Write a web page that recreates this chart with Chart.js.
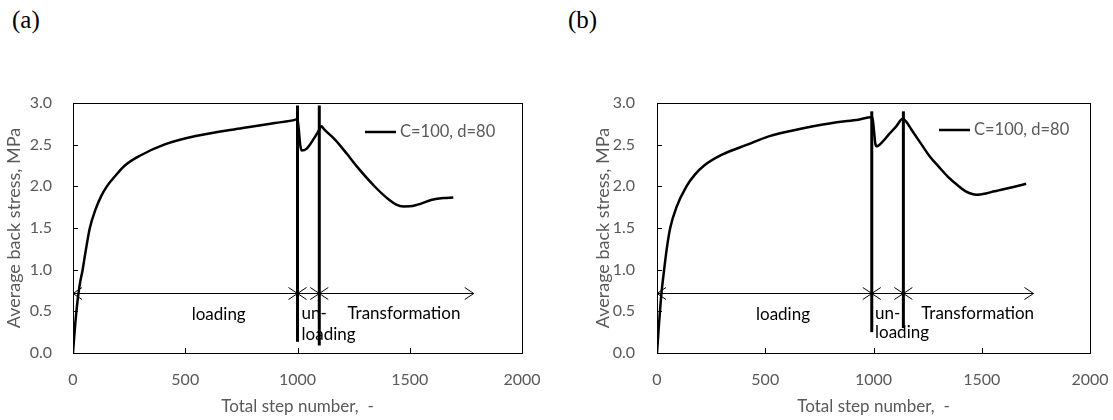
<!DOCTYPE html>
<html>
<head>
<meta charset="utf-8">
<script src="https://cdn.jsdelivr.net/npm/chart.js@4"></script>
<style>
    body { margin: 0; background: #fff; width: 1113px; height: 420px; position: relative; overflow: hidden; }
    .panel { position: absolute; top: 80px; }
    .tag { position: absolute; top: 6px; font-family: 'Liberation Serif', serif; font-size: 25px; color: #000; }
</style>
</head>
<body>
<div class="tag" style="left: 12px;">(a)</div>
<div class="tag" style="left: 568px;">(b)</div>
<div class="panel" style="left: 0px;"><canvas id="chartA" width="556" height="340"></canvas></div>
<div class="panel" style="left: 556px;"><canvas id="chartB" width="557" height="340"></canvas></div>
<script>
// Panel (a) curve: step number vs average back stress
const stepsA = [0, 10, 20, 30, 43, 55, 75, 100, 125, 151, 190, 231, 300, 406, 541, 756, 900, 991, 1000,
    1005, 1012, 1018, 1040, 1070, 1095, 1106, 1120, 1169, 1220, 1265, 1344, 1408, 1440, 1472, 1500,
    1535, 1599, 1650, 1694];
const stressA = [0, 0.35, 0.62, 0.82, 1.0, 1.2, 1.5, 1.72, 1.88, 2.0, 2.13, 2.25, 2.37, 2.5, 2.6, 2.7, 2.76, 2.8, 2.81,
    2.7, 2.5, 2.43, 2.45, 2.56, 2.67, 2.72, 2.68, 2.555, 2.39, 2.236, 1.998, 1.838, 1.78, 1.759, 1.76,
    1.78, 1.838, 1.86, 1.866];

// Panel (b) curve
const stepsB = [0, 8, 20, 33, 45, 61, 90, 136, 175, 218, 300, 417, 516, 681, 830, 930, 990, 995,
    1001, 1008, 1014, 1040, 1070, 1105, 1135, 1150, 1178, 1220, 1261, 1300, 1343, 1390, 1426, 1460,
    1475, 1520, 1558, 1641, 1705];
const stressB = [0, 0.3, 0.7, 1.0, 1.25, 1.5, 1.75, 2.0, 2.14, 2.25, 2.38, 2.5, 2.6, 2.7, 2.77, 2.8, 2.83, 2.83,
    2.7, 2.52, 2.48, 2.53, 2.62, 2.72, 2.81, 2.78, 2.67, 2.51, 2.355, 2.24, 2.117, 2.01, 1.94, 1.905,
    1.9, 1.915, 1.94, 1.99, 2.03];

// Vertical marker lines [x, yBottom, yTop]
const markersA = [[1000, 0.135, 2.97], [1097, 0.09, 2.97]];
const markersB = [[992, 0.25, 2.9], [1138, 0.3, 2.9]];

// Double-headed arrows along y = 0.724
const arrowY = 0.724;
const arrowStopsA = [0, 1000, 1097, 1785];
const arrowStopsB = [0, 992, 1138, 1739];

// Phase labels
const phaseText = ['loading', 'un-', 'loading', 'Transformation'];
const phaseAlign = ['center', 'left', 'left', 'center'];
const phaseXA = [649, 1018, 1018, 1474];
const phaseYA = [0.46, 0.47, 0.22, 0.47];
const phaseXB = [582, 1007, 1007, 1481];
const phaseYB = [0.46, 0.47, 0.25, 0.47];

const xTicks = [0, 500, 1000, 1500, 2000];
const yTicks = [0, 0.5, 1, 1.5, 2, 2.5, 3];
const seriesName = 'C=100, d=80';

Chart.defaults.font.family = 'Lato';
Chart.defaults.font.size = 16;
Chart.defaults.color = '#595959';

function toPoints(xs, ys) {
    return xs.map((x, i) => ({ x: x, y: ys[i] }));
}

// Frame, inside ticks, arrows, phase labels and legend
function overlayPlugin(cfg) {
    return {
        id: 'overlay',
        afterDatasetsDraw(chart) {
            const ctx = chart.ctx;
            const xs = chart.scales.x, ys = chart.scales.y;
            const a = chart.chartArea;
            ctx.save();
            ctx.strokeStyle = '#000';
            ctx.lineWidth = 1;
            ctx.strokeRect(Math.round(a.left) + 0.5, Math.round(a.top) + 0.5,
                Math.round(a.right - a.left), Math.round(a.bottom - a.top));

            ctx.beginPath();
            xTicks.slice(1, -1).forEach(v => {
                const px = Math.round(xs.getPixelForValue(v)) + 0.5;
                ctx.moveTo(px, a.bottom);
                ctx.lineTo(px, a.bottom - 5);
            });
            yTicks.slice(1, -1).forEach(v => {
                const py = Math.round(ys.getPixelForValue(v)) + 0.5;
                ctx.moveTo(a.left, py);
                ctx.lineTo(a.left + 5, py);
            });
            ctx.stroke();

            // arrows
            const ay = Math.round(ys.getPixelForValue(arrowY)) + 0.5;
            const stops = cfg.arrowStops;
            ctx.beginPath();
            ctx.moveTo(xs.getPixelForValue(stops[0]), ay);
            ctx.lineTo(xs.getPixelForValue(stops[stops.length - 1]), ay);
            for (let i = 0; i < stops.length - 1; i++) {
                const x0 = xs.getPixelForValue(stops[i]);
                const x1 = xs.getPixelForValue(stops[i + 1]);
                ctx.moveTo(x0 + 9, ay - 6); ctx.lineTo(x0, ay); ctx.lineTo(x0 + 9, ay + 6);
                ctx.moveTo(x1 - 9, ay - 6); ctx.lineTo(x1, ay); ctx.lineTo(x1 - 9, ay + 6);
            }
            ctx.stroke();

            // phase labels
            ctx.fillStyle = '#000';
            ctx.font = '17px Lato';
            ctx.textBaseline = 'middle';
            phaseText.forEach((t, i) => {
                ctx.textAlign = phaseAlign[i];
                ctx.fillText(t, xs.getPixelForValue(cfg.phaseX[i]), ys.getPixelForValue(cfg.phaseY[i]));
            });

            // legend
            const lx = a.left + cfg.legendDx, ly = a.top + cfg.legendDy;
            ctx.lineWidth = 2.5;
            ctx.beginPath();
            ctx.moveTo(lx, ly);
            ctx.lineTo(lx + 31, ly);
            ctx.stroke();
            ctx.fillStyle = '#595959';
            ctx.textAlign = 'left';
            ctx.font = '16.5px Lato';
            ctx.fillText(seriesName, lx + 35, ly);
            ctx.restore();
        }
    };
}

function makeChart(id, steps, stress, markers, cfg) {
    const datasets = [{
        label: seriesName,
        data: toPoints(steps, stress),
        borderColor: '#000',
        borderWidth: 2.5,
        pointRadius: 0,
        cubicInterpolationMode: 'monotone'
    }];
    markers.forEach(m => {
        datasets.push({
            label: 'marker',
            data: [{ x: m[0], y: m[1] }, { x: m[0], y: m[2] }],
            borderColor: '#000',
            borderWidth: 3,
            pointRadius: 0
        });
    });

    return new Chart(document.getElementById(id), {
        type: 'line',
        data: { datasets: datasets },
        options: {
            responsive: false,
            animation: false,
            layout: { padding: { top: 23, right: cfg.padRight, left: cfg.padLeft, bottom: 0 } },
            plugins: { legend: { display: false }, tooltip: { enabled: false } },
            scales: {
                x: {
                    type: 'linear',
                    min: 0,
                    max: 2000,
                    afterBuildTicks: s => { s.ticks = xTicks.map(v => ({ value: v })); },
                    afterFit: s => { s.height = 67; s.paddingLeft = 5; s.paddingRight = 5; },
                    grid: { display: false, drawTicks: false },
                    border: { display: false },
                    ticks: { padding: 17, color: '#595959', maxRotation: 0, callback: v => String(v) },
                    title: { display: true, text: 'Total step number,  -', color: '#595959', font: { size: 17 }, padding: { top: 4, bottom: 3 } }
                },
                y: {
                    type: 'linear',
                    min: 0,
                    max: 3,
                    afterBuildTicks: s => { s.ticks = yTicks.map(v => ({ value: v })); },
                    afterFit: s => { s.width = cfg.yWidth; s.paddingTop = 5; s.paddingBottom = 5; },
                    grid: { display: false, drawTicks: false },
                    border: { display: false },
                    ticks: { padding: cfg.yPad, color: '#595959', callback: v => v.toFixed(1) },
                    title: { display: true, text: 'Average back stress, MPa', color: '#595959', font: { size: 18 }, padding: { top: 3, bottom: 4 } }
                }
            }
        },
        plugins: [overlayPlugin(cfg)]
    });
}

makeChart('chartA', stepsA, stressA, markersA, {
    padLeft: 0, padRight: 34, yWidth: 73, yPad: 21,
    arrowStops: arrowStopsA, phaseX: phaseXA, phaseY: phaseYA,
    legendDx: 292, legendDy: 29
});
makeChart('chartB', stepsB, stressB, markersB, {
    padLeft: 33, padRight: 23, yWidth: 68, yPad: 22,
    arrowStops: arrowStopsB, phaseX: phaseXB, phaseY: phaseYB,
    legendDx: 282, legendDy: 27
});
</script>
</body>
</html>
